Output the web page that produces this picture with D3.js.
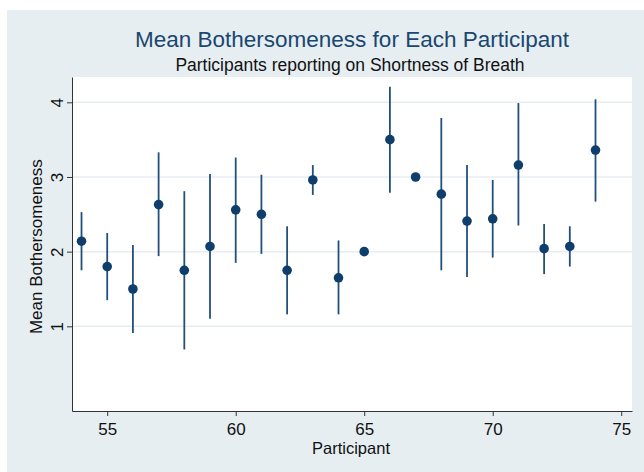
<!DOCTYPE html>
<html>
<head>
<meta charset="utf-8">
<script src="https://cdn.jsdelivr.net/npm/d3@7"></script>
<style>
  body { margin: 0; background: #fff; }
  text { font-family: "Liberation Sans", Arial, sans-serif; }
</style>
</head>
<body>
<svg width="644" height="472"></svg>
<script>
// participant ids and mean bothersomeness, with ci bounds (null = no bar)
const participants = [54, 55, 56, 57, 58, 59, 60, 61, 62, 63, 64, 65, 66, 67, 68, 69, 70, 71, 72, 73, 74];
const means  = [2.14, 1.80, 1.50, 2.63, 1.75, 2.07, 2.56, 2.50, 1.75, 2.96, 1.65, 2.00, 3.50, 3.00, 2.77, 2.41, 2.44, 3.16, 2.04, 2.07, 3.36];
const uppers = [2.53, 2.25, 2.09, 3.33, 2.81, 3.04, 3.26, 3.03, 2.34, 3.16, 2.15, null, 4.21, null, 3.79, 3.16, 2.96, 3.99, 2.37, 2.34, 4.04];
const lowers = [1.75, 1.35, 0.91, 1.94, 0.69, 1.10, 1.85, 1.97, 1.16, 2.76, 1.16, null, 2.79, null, 1.75, 1.66, 1.92, 2.35, 1.70, 1.80, 2.67];

const xTicks = [55, 60, 65, 70, 75];
const yTicks = [1, 2, 3, 4];

const svg = d3.select("svg");
const navy = "#0f3e6c";

// plot region
const plot = {left: 72, right: 632, top: 77, bottom: 411};

const x = d3.scaleLinear()
  .domain([53.63, 75.42])
  .range([plot.left, plot.right]);

const y = d3.scaleLinear()
  .domain([-0.134, 4.339])
  .range([plot.bottom, plot.top]);

// outer background
svg.append("rect")
  .attr("x", 7).attr("y", 10)
  .attr("width", 637).attr("height", 462)
  .attr("fill", "#e6eef2");

svg.append("rect")
  .attr("x", plot.left).attr("y", plot.top)
  .attr("width", plot.right - plot.left)
  .attr("height", plot.bottom - plot.top)
  .attr("fill", "#fff");

// gridlines
svg.append("g")
  .selectAll("line")
  .data(yTicks)
  .join("line")
  .attr("x1", plot.left).attr("x2", plot.right)
  .attr("y1", d => y(d)).attr("y2", d => y(d))
  .attr("stroke", "#e6eef2")
  .attr("stroke-width", 1.5);

// axes
const xAxis = svg.append("g")
  .attr("transform", `translate(0,${plot.bottom})`)
  .call(d3.axisBottom(x).tickValues(xTicks).tickFormat(d3.format("d"))
    .tickSize(5).tickSizeOuter(0).tickPadding(5));

const yAxis = svg.append("g")
  .attr("transform", `translate(${plot.left},0)`)
  .call(d3.axisLeft(y).tickValues(yTicks).tickFormat(d3.format("d"))
    .tickSize(5).tickSizeOuter(0));

[xAxis, yAxis].forEach(a => {
  a.select(".domain").attr("stroke", "#333").attr("stroke-width", 1);
  a.selectAll(".tick line").attr("stroke", "#333");
  a.selectAll("text")
    .attr("fill", "#111")
    .style("font-size", "17px")
    .style("font-family", "Liberation Sans, Arial, sans-serif");
});
xAxis.selectAll("text").attr("dy", "0.85em");

// rotate y tick labels like stata does
yAxis.selectAll(".tick text")
  .attr("x", null)
  .attr("dy", null)
  .attr("text-anchor", "middle")
  .attr("transform", "translate(-9,0) rotate(-90)");

// error bars
svg.append("g")
  .selectAll("line")
  .data(participants.map((p, i) => ({p, lo: lowers[i], hi: uppers[i]}))
    .filter(d => d.lo !== null))
  .join("line")
  .attr("x1", d => x(d.p)).attr("x2", d => x(d.p))
  .attr("y1", d => y(d.lo)).attr("y2", d => y(d.hi))
  .attr("stroke", "#22507d")
  .attr("stroke-width", 1.8);

// mean markers
svg.append("g")
  .selectAll("circle")
  .data(participants.map((p, i) => ({p, m: means[i]})))
  .join("circle")
  .attr("cx", d => x(d.p))
  .attr("cy", d => y(d.m))
  .attr("r", 4.8)
  .attr("fill", navy);

// titles
svg.append("text")
  .attr("x", 352).attr("y", 47)
  .attr("text-anchor", "middle")
  .attr("fill", "#1a476f")
  .style("font-size", "22.5px")
  .text("Mean Bothersomeness for Each Participant");

svg.append("text")
  .attr("x", 350).attr("y", 71)
  .attr("text-anchor", "middle")
  .attr("fill", "#111")
  .style("font-size", "17.5px")
  .text("Participants reporting on Shortness of Breath");

svg.append("text")
  .attr("x", (plot.left + plot.right) / 2 - 1).attr("y", 454)
  .attr("text-anchor", "middle")
  .attr("fill", "#111")
  .style("font-size", "16.5px")
  .text("Participant");

svg.append("text")
  .attr("transform", `translate(42,${y(2) - 5}) rotate(-90)`)
  .attr("text-anchor", "middle")
  .attr("fill", "#111")
  .style("font-size", "17px")
  .text("Mean Bothersomeness");
</script>
</body>
</html>
